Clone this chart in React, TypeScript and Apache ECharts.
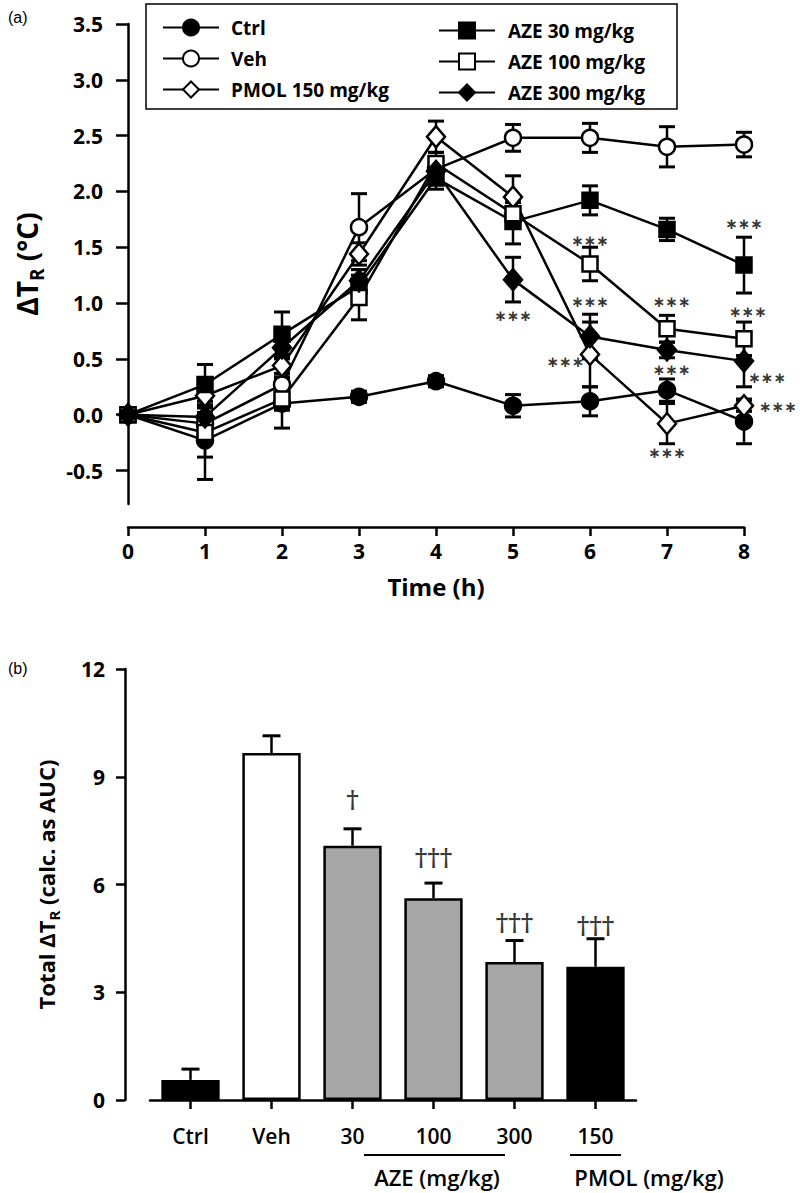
import React, { useEffect, useRef } from "react";
import * as echarts from "echarts";

// ---------- Panel (a): time course ----------
const hours = [0, 1, 2, 3, 4, 5, 6, 7, 8];
const ctrlMean = [0, -0.23, 0.1, 0.16, 0.3, 0.08, 0.12, 0.22, -0.06];
const ctrlSem = [0, 0.35, 0.22, 0.05, 0.05, 0.1, 0.13, 0.1, 0.2];
const vehMean = [0, -0.08, 0.27, 1.68, 2.2, 2.48, 2.48, 2.4, 2.42];
const vehSem = [0, 0.1, 0.1, 0.3, 0.1, 0.12, 0.13, 0.18, 0.11];
const pmolMean = [0, 0.17, 0.44, 1.44, 2.49, 1.95, 0.54, -0.08, 0.08];
const pmolSem = [0, 0.1, 0.1, 0.1, 0.14, 0.19, 0.29, 0.18, 0.05];
const aze30Mean = [0, 0.27, 0.72, 1.15, 2.12, 1.73, 1.92, 1.66, 1.34];
const aze30Sem = [0, 0.18, 0.2, 0.15, 0.1, 0.2, 0.13, 0.1, 0.25];
const aze100Mean = [0, -0.16, 0.14, 1.05, 2.25, 1.8, 1.35, 0.77, 0.68];
const aze100Sem = [0, 0.22, 0.1, 0.2, 0.1, 0.1, 0.15, 0.12, 0.15];
const aze300Mean = [0, -0.02, 0.6, 1.2, 2.18, 1.21, 0.7, 0.58, 0.48];
const aze300Sem = [0, 0.1, 0.1, 0.1, 0.1, 0.2, 0.2, 0.07, 0.23];
const yTicksA = [-0.5, 0, 0.5, 1, 1.5, 2, 2.5, 3, 3.5];
// significance marks (position in data space: hour, value)
const starMarks: [number, number][] = [
  [5, 0.88], [6, 1.56], [6, 1.01], [5.68, 0.47], [7.06, 1.01], [7.06, 0.4],
  [7.0, -0.34], [8, 1.71], [8.05, 0.92], [8.3, 0.33], [8.44, 0.07],
];

// ---------- Panel (b): AUC bars ----------
const barCategories = ["Ctrl", "Veh", "30", "100", "300", "150"];
const barValues = [0.56, 9.66, 7.08, 5.62, 3.84, 3.71];
const barSem = [0.3, 0.48, 0.47, 0.42, 0.6, 0.78];
const daggerMarks = ["", "", "†", "†††", "†††", "†††"];
const daggerLevels = [null, null, 8.36, 6.74, 4.93, 4.87];
const yTicksB = [0, 3, 6, 9, 12];

const FONT = "'Open Sans', 'DejaVu Sans', sans-serif";
const BLACK = "#000";
const GRAY = "#a6a6a6";
const barFills = [BLACK, "#fff", GRAY, GRAY, GRAY, BLACK];

const lineDefs = [
  { name: "Ctrl", mean: ctrlMean, sem: ctrlSem, symbol: "circle", fill: BLACK, size: 16 },
  { name: "Veh", mean: vehMean, sem: vehSem, symbol: "circle", fill: "#fff", size: 16 },
  { name: "PMOL 150 mg/kg", mean: pmolMean, sem: pmolSem, symbol: "diamond", fill: "#fff", size: [18, 21] },
  { name: "AZE 30 mg/kg", mean: aze30Mean, sem: aze30Sem, symbol: "rect", fill: BLACK, size: 15 },
  { name: "AZE 100 mg/kg", mean: aze100Mean, sem: aze100Sem, symbol: "rect", fill: "#fff", size: 15 },
  { name: "AZE 300 mg/kg", mean: aze300Mean, sem: aze300Sem, symbol: "diamond", fill: BLACK, size: [18, 21] },
];

function errRenderer(both: boolean, half: number) {
  return (params: any, api: any) => {
    const x = api.value(0);
    const y = api.value(1);
    const e = api.value(2);
    if (!e) return null;
    const top = api.coord([x, y + e]);
    const bot = both ? api.coord([x, y - e]) : api.coord([x, y]);
    const children: any[] = [
      { type: "line", shape: { x1: top[0], y1: top[1], x2: bot[0], y2: bot[1] }, style: { stroke: BLACK, lineWidth: 2.5 } },
      { type: "line", shape: { x1: top[0] - half, y1: top[1], x2: top[0] + half, y2: top[1] }, style: { stroke: BLACK, lineWidth: 3 } },
    ];
    if (both) {
      children.push({ type: "line", shape: { x1: bot[0] - half, y1: bot[1], x2: bot[0] + half, y2: bot[1] }, style: { stroke: BLACK, lineWidth: 3 } });
    }
    return { type: "group", children };
  };
}

export default function App() {
  const ref = useRef<HTMLDivElement>(null);
  useEffect(() => {
    if (!ref.current) return;
    const chart = echarts.init(ref.current, null, { renderer: "svg" });

    const series: any[] = [];
    lineDefs.forEach((d) => {
      series.push({
        type: "custom",
        xAxisIndex: 0,
        yAxisIndex: 0,
        renderItem: errRenderer(true, 8),
        data: hours.map((h, i) => [h, d.mean[i], d.sem[i]]),
        encode: { x: 0, y: 1 },
        z: 2,
        silent: true,
      });
    });
    lineDefs.forEach((d) => {
      series.push({
        type: "line",
        name: d.name,
        xAxisIndex: 0,
        yAxisIndex: 0,
        data: hours.map((h, i) => [h, d.mean[i]]),
        symbol: d.symbol,
        symbolSize: d.size,
        showAllSymbol: true,
        lineStyle: { color: BLACK, width: 2.5 },
        itemStyle: { color: d.fill, borderColor: BLACK, borderWidth: 2.5, opacity: 1 },
        z: 3,
      });
    });
    series.push({
      type: "scatter",
      xAxisIndex: 0,
      yAxisIndex: 0,
      data: starMarks,
      symbol: "circle",
      symbolSize: 1,
      itemStyle: { color: "transparent" },
      clip: false,
      silent: true,
      z: 4,
      label: {
        show: true,
        position: "inside",
        formatter: "∗∗∗",
        color: BLACK,
        fontFamily: "'DejaVu Sans', sans-serif",
        fontSize: 15,
        fontWeight: "bold",
      },
    });
    series.push({
      type: "bar",
      xAxisIndex: 1,
      yAxisIndex: 1,
      barWidth: "72%",
      data: barValues.map((v, i) => ({ value: v, itemStyle: { color: barFills[i] } })),
      itemStyle: { borderColor: BLACK, borderWidth: 2.5 },
      z: 2,
    });
    series.push({
      type: "custom",
      xAxisIndex: 1,
      yAxisIndex: 1,
      renderItem: errRenderer(false, 9),
      data: barValues.map((v, i) => [i, v, barSem[i]]),
      encode: { x: 0, y: 1 },
      z: 1,
      silent: true,
    });
    series.push({
      type: "scatter",
      xAxisIndex: 1,
      yAxisIndex: 1,
      data: daggerLevels.map((v, i) => (v == null ? null : [i, v])).filter((p) => p !== null),
      symbol: "circle",
      symbolSize: 1,
      itemStyle: { color: "transparent" },
      silent: true,
      label: {
        show: true,
        position: "inside",
        formatter: (p: any) => daggerMarks[p.value[0]],
        color: BLACK,
        fontFamily: "'DejaVu Serif', serif",
        fontSize: 24,
        fontWeight: "bold",
      },
    });

    const axisLineStyle = { color: BLACK, width: 2.5 };

    chart.setOption({
      animation: false,
      backgroundColor: "#fff",
      grid: [
        { left: 128, top: 24, width: 616, height: 480 },
        { left: 150, top: 669, width: 486, height: 431 },
      ],
      legend: [
        {
          data: ["Ctrl", "Veh", "PMOL 150 mg/kg"],
          orient: "vertical",
          left: 157,
          top: 13,
          itemWidth: 56,
          itemHeight: 20,
          itemGap: 12,
          selectedMode: false,
          textStyle: { fontFamily: FONT, fontSize: 19, fontWeight: "bold", color: BLACK, padding: [0, 0, 0, 7] },
        },
        {
          data: ["AZE 30 mg/kg", "AZE 100 mg/kg", "AZE 300 mg/kg"],
          orient: "vertical",
          left: 433,
          top: 16,
          itemWidth: 56,
          itemHeight: 20,
          itemGap: 12,
          selectedMode: false,
          textStyle: { fontFamily: FONT, fontSize: 19, fontWeight: "bold", color: BLACK, padding: [0, 0, 0, 8] },
        },
      ],
      xAxis: [
        {
          type: "value",
          gridIndex: 0,
          min: 0,
          max: 8,
          interval: 1,
          offset: 23,
          axisLine: { show: true, onZero: false, lineStyle: axisLineStyle },
          axisTick: { show: true, length: 9, lineStyle: axisLineStyle },
          axisLabel: { margin: 13, fontFamily: FONT, fontSize: 21, fontWeight: "bold", color: BLACK },
          splitLine: { show: false },
          name: "Time (h)",
          nameLocation: "middle",
          nameGap: 47,
          nameTextStyle: { fontFamily: FONT, fontSize: 24, fontWeight: "bold", color: BLACK },
        },
        {
          type: "category",
          gridIndex: 1,
          data: barCategories,
          axisLine: { show: true, onZero: false, lineStyle: axisLineStyle },
          axisTick: { show: true, alignWithLabel: true, length: 9, lineStyle: axisLineStyle },
          axisLabel: { margin: 25, fontFamily: FONT, fontSize: 21, fontWeight: 600, color: BLACK },
          splitLine: { show: false },
        },
      ],
      yAxis: [
        {
          type: "value",
          gridIndex: 0,
          min: -0.8,
          max: 3.5,
          axisLine: { show: true, onZero: false, lineStyle: axisLineStyle },
          axisTick: { show: true, length: 12, lineStyle: axisLineStyle, customValues: yTicksA },
          axisLabel: {
            margin: 25,
            customValues: yTicksA,
            formatter: (v: number) => v.toFixed(1),
            fontFamily: FONT,
            fontSize: 21,
            fontWeight: "bold",
            color: BLACK,
          },
          splitLine: { show: false },
          name: "{d|ΔT}{s|R}{d| (°C)}",
          nameLocation: "middle",
          nameRotate: 90,
          nameGap: 82,
          nameTextStyle: {
            rich: {
              d: { fontFamily: FONT, fontSize: 28, fontWeight: "bold", color: BLACK, lineHeight: 38 },
              s: { fontFamily: FONT, fontSize: 19, fontWeight: "bold", color: BLACK, lineHeight: 38, verticalAlign: "bottom" },
            },
          },
        },
        {
          type: "value",
          gridIndex: 1,
          min: 0,
          max: 12,
          interval: 3,
          offset: 25,
          axisLine: { show: true, onZero: false, lineStyle: axisLineStyle },
          axisTick: { show: true, length: 9, lineStyle: axisLineStyle },
          axisLabel: { margin: 20, fontFamily: FONT, fontSize: 21, fontWeight: "bold", color: BLACK, customValues: yTicksB },
          splitLine: { show: false },
          name: "{d|Total ΔT}{s|R}{d| (calc. as AUC)}",
          nameLocation: "middle",
          nameRotate: 90,
          nameGap: 64,
          nameTextStyle: {
            rich: {
              d: { fontFamily: FONT, fontSize: 22, fontWeight: "bold", color: BLACK, lineHeight: 30 },
              s: { fontFamily: FONT, fontSize: 15, fontWeight: "bold", color: BLACK, lineHeight: 30, verticalAlign: "bottom" },
            },
          },
        },
      ],
      graphic: [
        { type: "rect", shape: { x: 146, y: 4, width: 531, height: 105 }, style: { fill: "none", stroke: BLACK, lineWidth: 1.5 }, z: 10 },
        { type: "text", x: 8, y: 9, style: { text: "(a)", fontFamily: "'Liberation Sans', Arial, sans-serif", fontSize: 16, fill: BLACK } },
        { type: "text", x: 8, y: 660, style: { text: "(b)", fontFamily: "'Liberation Sans', Arial, sans-serif", fontSize: 16, fill: BLACK } },
        { type: "line", shape: { x1: 364, y1: 1155, x2: 505, y2: 1155 }, style: { stroke: BLACK, lineWidth: 2 } },
        { type: "line", shape: { x1: 570, y1: 1155, x2: 621, y2: 1155 }, style: { stroke: BLACK, lineWidth: 2 } },
        { type: "text", x: 437, y: 1177, style: { text: "AZE (mg/kg)", fontFamily: FONT, fontSize: 22, fontWeight: 600, fill: BLACK, align: "center", verticalAlign: "middle" } },
        { type: "text", x: 649, y: 1177, style: { text: "PMOL (mg/kg)", fontFamily: FONT, fontSize: 22, fontWeight: 600, fill: BLACK, align: "center", verticalAlign: "middle" } },
      ],
      series,
    });
    return () => chart.dispose();
  }, []);
  return <div ref={ref} style={{ position: "absolute", left: 0, top: 0, width: 800, height: 1193, background: "#fff" }} />;
}
